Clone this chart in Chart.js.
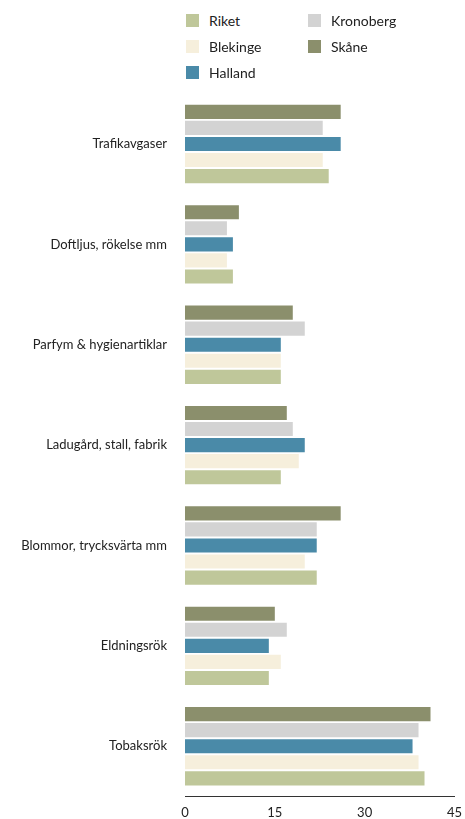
<!DOCTYPE html><html><head><meta charset="utf-8">
<script src="https://cdn.jsdelivr.net/npm/chart.js@4"></script>
<style>
body{margin:0;background:#fff;font-family:Lato,"Noto Sans",sans-serif;overflow:hidden;}
#legend{position:absolute;left:186px;top:12px;width:280px;font-size:14px;color:#222;z-index:2;}
.it{position:absolute;display:flex;align-items:center;}
.sw{width:13px;height:13px;margin-right:10px;}
#wrap{position:absolute;left:0;top:76px;width:465px;height:748px;}
</style></head><body>
<div id="legend"></div>
<div id="wrap"><canvas id="c"></canvas></div>
<script>
const categories=["Trafikavgaser","Doftljus, rökelse mm","Parfym & hygienartiklar","Ladugård, stall, fabrik","Blommor, trycksvärta mm","Eldningsrök","Tobaksrök"];
const riket=[24,8,16,16,22,14,40];
const blekinge=[23,7,16,19,20,16,39];
const halland=[26,8,16,20,22,14,38];
const kronoberg=[23,7,20,18,22,17,39];
const skane=[26,9,18,17,26,15,41];
const ticks=[0,15,30,45];
const series=[["Riket",riket,"#bfc79a"],["Blekinge",blekinge,"#f6efdc"],["Halland",halland,"#4a8aa8"],["Kronoberg",kronoberg,"#d3d3d3"],["Skåne",skane,"#8b8f6c"]];
const pos=[[0,0],[0,26],[0,52],[122,0],[122,26]];
const lg=document.getElementById('legend');
series.forEach((s,i)=>{const d=document.createElement('div');d.className='it';d.style.left=pos[i][0]+'px';d.style.top=pos[i][1]+'px';d.innerHTML='<span class="sw" style="background:'+s[2]+'"></span>'+s[0];lg.appendChild(d);});
const ds=series.slice().reverse().map(s=>({label:s[0],data:s[1],backgroundColor:s[2],barPercentage:0.88,categoryPercentage:0.8}));
new Chart(document.getElementById('c'),{type:'bar',data:{labels:categories,datasets:ds},
options:{indexAxis:'y',responsive:true,maintainAspectRatio:false,animation:false,
layout:{padding:{left:0,right:0,top:0,bottom:0}},
plugins:{legend:{display:false},tooltip:{enabled:false}},
scales:{x:{min:0,max:45,afterBuildTicks:a=>{a.ticks=ticks.map(v=>({value:v}));},grid:{display:false,drawTicks:true,tickLength:6},border:{display:true,color:'#333'},ticks:{color:'#222',font:{family:'Lato',size:13}}},
y:{grid:{display:false},border:{display:false},afterFit:a=>{a.width=185;},ticks:{color:'#222',padding:10,font:{family:'Lato',size:13}}}}}});
</script></body></html>
